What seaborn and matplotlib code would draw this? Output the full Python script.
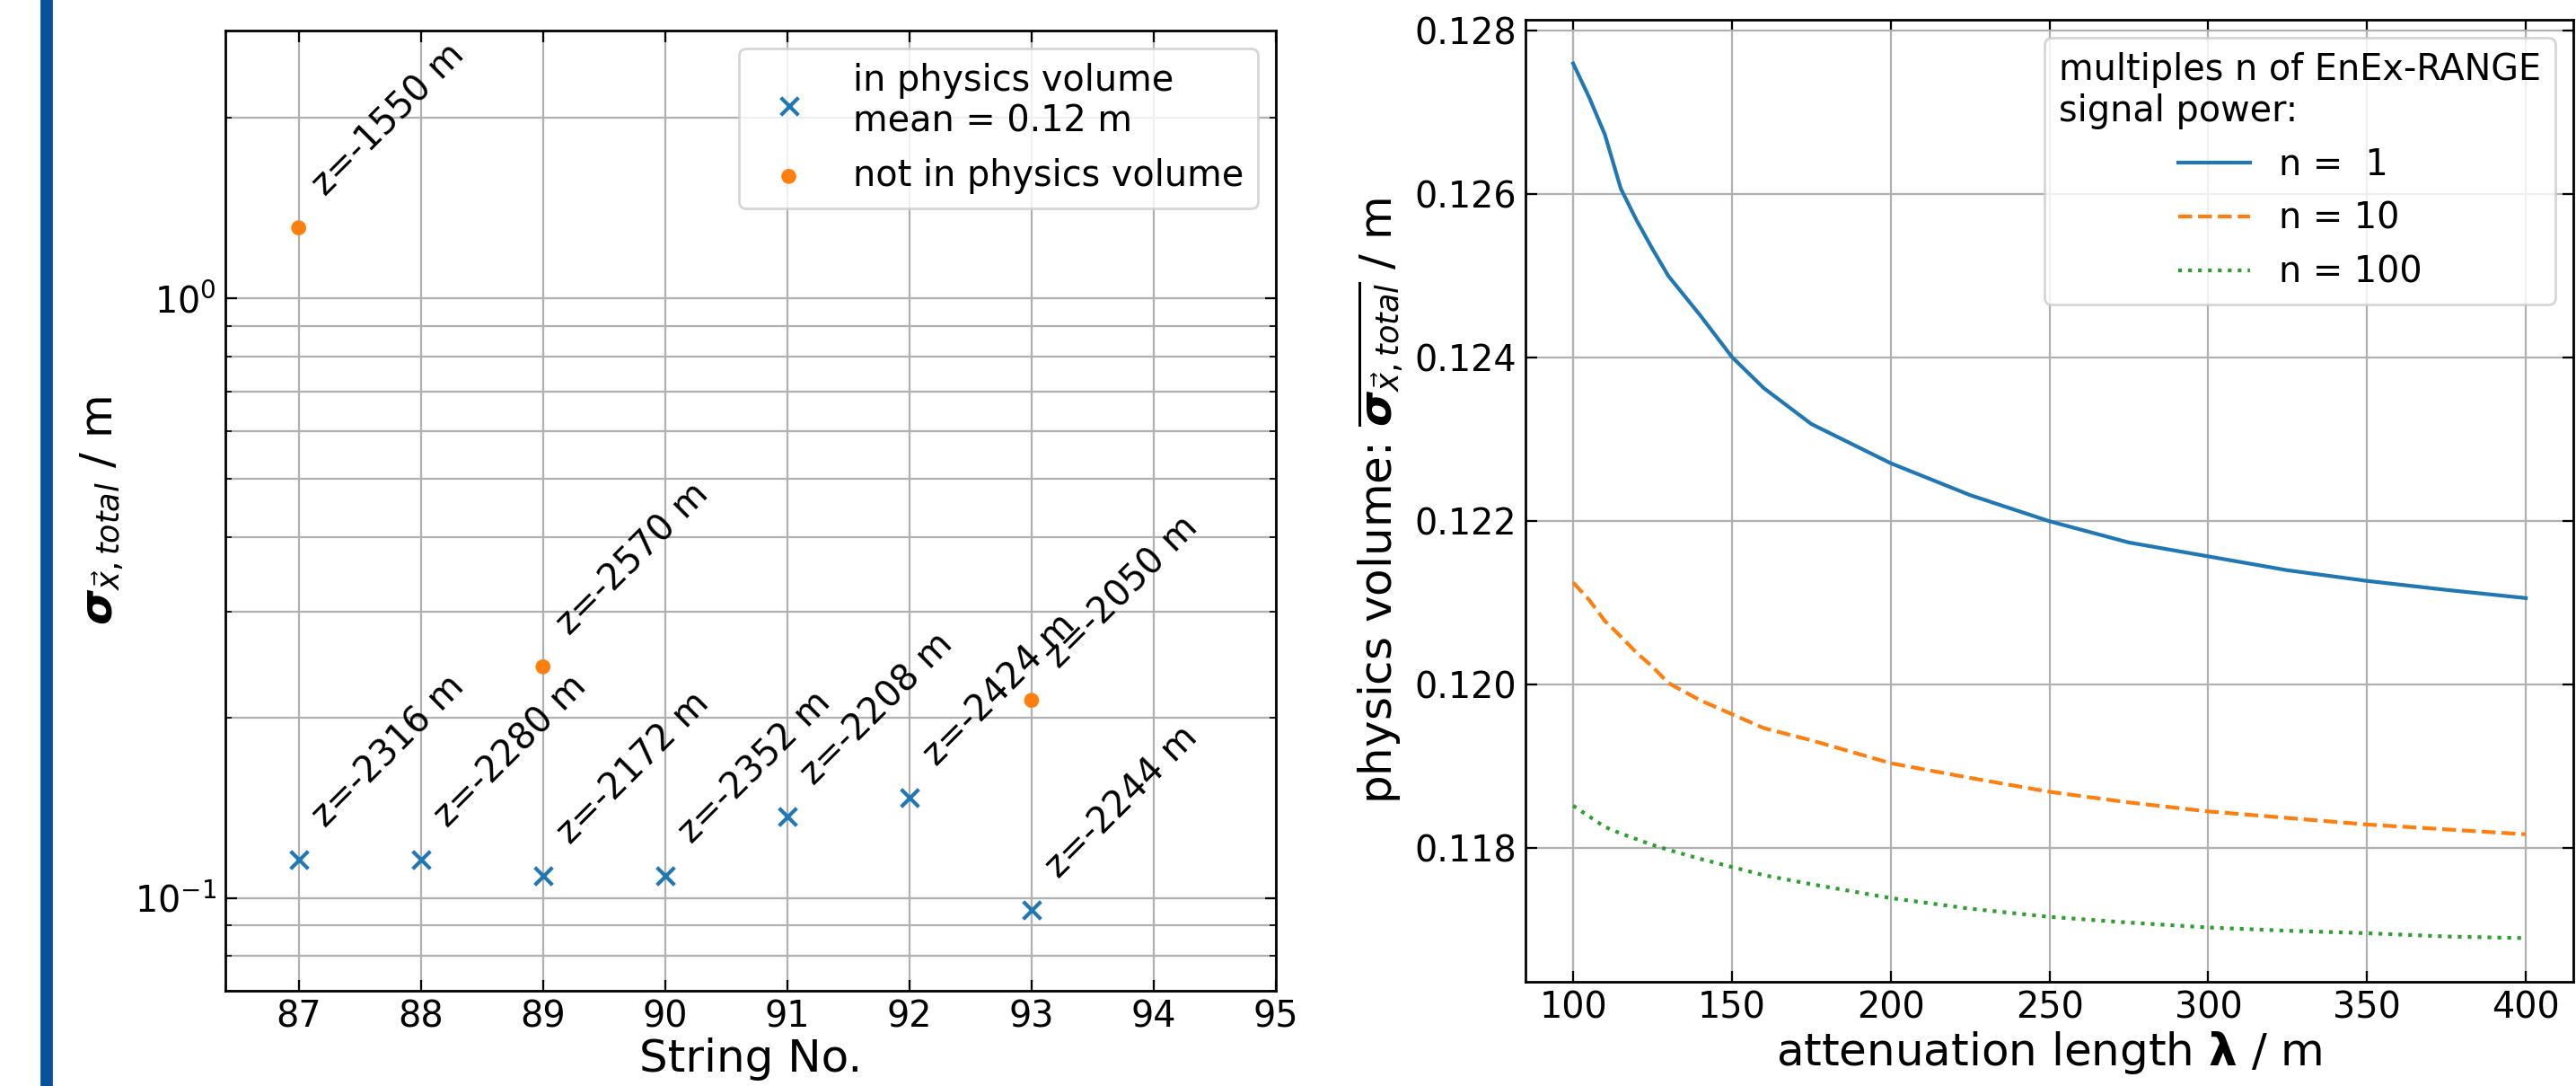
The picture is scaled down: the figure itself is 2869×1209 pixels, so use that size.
import numpy as np
import pandas as pd
import seaborn as sns
import matplotlib.pyplot as plt
from matplotlib.patches import Rectangle
from matplotlib.ticker import MultipleLocator, LogLocator, NullFormatter

# left panel: resolution per string
strings_in = [87, 88, 89, 90, 91, 92, 93]
sigma_in = [0.1158, 0.1158, 0.1089, 0.1089, 0.1365, 0.1470, 0.0956]
z_in = ["z=-2316 m", "z=-2280 m", "z=-2172 m", "z=-2352 m", "z=-2208 m", "z=-2424 m", "z=-2244 m"]

strings_out = [87, 89, 93]
sigma_out = [1.312, 0.243, 0.2136]
z_out = ["z=-1550 m", "z=-2570 m", "z=-2050 m"]

# right panel: mean resolution vs attenuation length
att_length = [100, 105, 110, 115, 120, 125, 130, 140, 150, 160, 175, 200, 225, 250, 275, 300, 325, 350, 375, 400]
sigma_n1 = [0.12760, 0.12719, 0.12673, 0.12607, 0.12568, 0.12533, 0.12500, 0.12452, 0.12401, 0.12363,
            0.12319, 0.12271, 0.12232, 0.12200, 0.12174, 0.12157, 0.12140, 0.12127, 0.12116, 0.12106]
sigma_n10 = [0.12125, 0.12104, 0.12078, 0.12059, 0.12039, 0.12022, 0.12002, 0.11981, 0.11964, 0.11947,
             0.11932, 0.11904, 0.11886, 0.11869, 0.11856, 0.11845, 0.11837, 0.11829, 0.11823, 0.11817]
sigma_n100 = [0.11852, 0.11839, 0.11826, 0.11818, 0.11811, 0.11804, 0.11798, 0.11787, 0.11777, 0.11767,
              0.11756, 0.11739, 0.11726, 0.11716, 0.11709, 0.11703, 0.11699, 0.11696, 0.11692, 0.11690]
series_labels = ["n =  1", "n = 10", "n = 100"]

plt.rcParams.update({
    "font.family": "DejaVu Sans",
    "font.size": 14.3,
    "axes.linewidth": 1.0,
    "xtick.direction": "in",
    "ytick.direction": "in",
    "xtick.top": True,
    "ytick.right": True,
    "xtick.major.size": 4.5,
    "ytick.major.size": 4.5,
    "ytick.minor.size": 2.5,
    "grid.color": "#b0b0b0",
    "grid.linewidth": 0.8,
    "mathtext.fontset": "dejavusans",
})

fig = plt.figure(figsize=(14.345, 6.045), dpi=200)
ax1 = fig.add_axes([0.0875, 0.0877, 0.4078, 0.8842])
ax2 = fig.add_axes([0.5922, 0.0959, 0.4068, 0.8859])

# blue bar on the left edge
fig.patches.append(Rectangle((0.016, 0.0), 0.0039, 1.0, transform=fig.transFigure,
                             color="#0a50a0", zorder=0))

# ---- left
sns.scatterplot(x=strings_in, y=sigma_in, marker="x", s=50, color="#1f77b4", linewidth=1.5,
                label="in physics volume\nmean = 0.12 m", ax=ax1, zorder=3)
sns.scatterplot(x=strings_out, y=sigma_out, marker="o", s=36, color="#ff7f0e", edgecolor="none",
                label="not in physics volume", ax=ax1, zorder=3)
for x, y, t in zip(strings_in + strings_out, sigma_in + sigma_out, z_in + z_out):
    ax1.annotate(t, (x, y * 1.1), xytext=(3, 0), textcoords="offset points",
                 rotation=45, ha="left", va="bottom", fontsize=14.3)

ax1.set_yscale("log")
ax1.set_xlim(86.4, 95)
ax1.set_ylim(0.07, 2.8)
ax1.xaxis.set_major_locator(MultipleLocator(1))
ax1.yaxis.set_minor_locator(LogLocator(base=10, subs=np.arange(2, 10)))
ax1.yaxis.set_minor_formatter(NullFormatter())
ax1.grid(True, which="major")
ax1.grid(True, which="minor", axis="y")
ax1.set_xlabel("String No.", fontsize=18, labelpad=1)
ax1.set_ylabel(r"$\boldsymbol{\sigma}_{\vec{x}, total}$ / m", fontsize=18)
ax1.legend(loc="upper right", fontsize=14.3)

# ---- right
sns.lineplot(x=att_length, y=sigma_n1, color="#1f77b4", linestyle="-", linewidth=1.5,
             label=series_labels[0], ax=ax2)
sns.lineplot(x=att_length, y=sigma_n10, color="#ff7f0e", linestyle="--", linewidth=1.5,
             label=series_labels[1], ax=ax2)
sns.lineplot(x=att_length, y=sigma_n100, color="#2ca02c", linestyle=":", linewidth=1.5,
             label=series_labels[2], ax=ax2)
ax2.grid(True)
ax2.set_xlabel(r"attenuation length $\boldsymbol{\lambda}$ / m", fontsize=18, labelpad=1)
ax2.set_ylabel(r"physics volume: $\overline{\boldsymbol{\sigma}_{\vec{x}, total}}$ / m", fontsize=18)
leg = ax2.legend(loc="upper right", fontsize=14.3,
                 title="multiples n of EnEx-RANGE\nsignal power:", title_fontsize=14.3)
leg.get_title().set_multialignment("left")

fig.savefig("out.png", dpi=200)
